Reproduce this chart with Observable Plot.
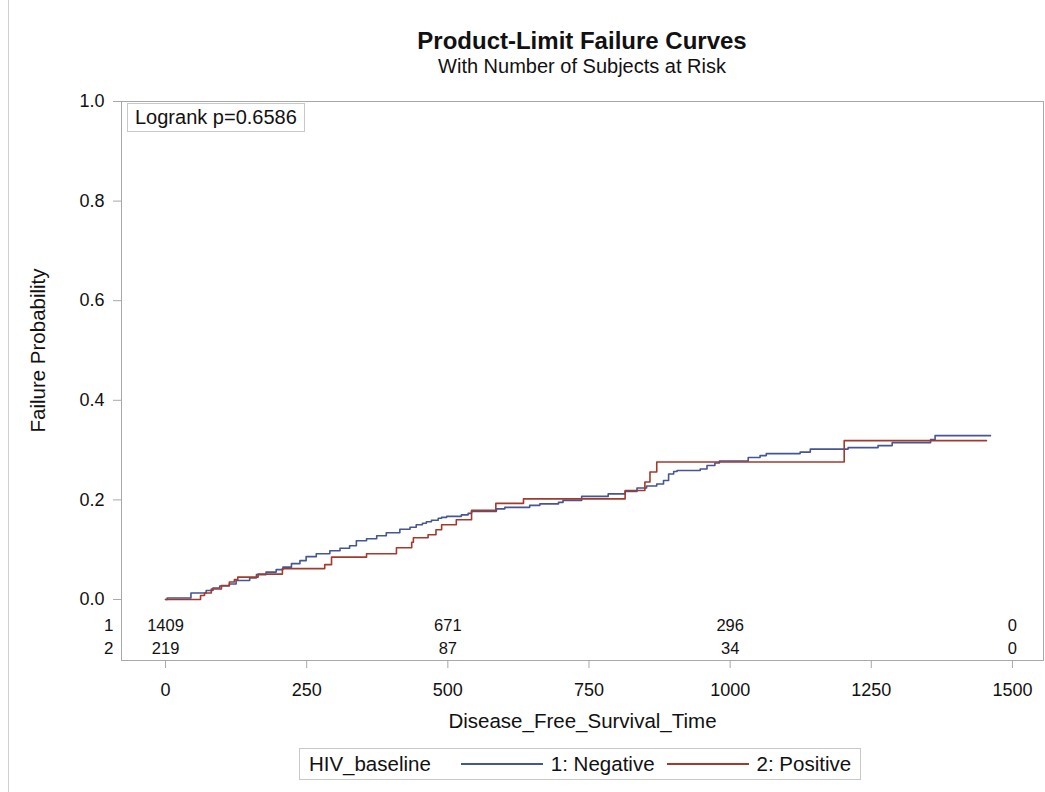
<!DOCTYPE html>
<html>
<head>
<meta charset="utf-8">
<script src="https://cdn.jsdelivr.net/npm/d3@7"></script>
<script src="https://cdn.jsdelivr.net/npm/@observablehq/plot@0.6"></script>
<style>
  html, body { margin: 0; padding: 0; background: #fff; }
  #wrap { position: relative; width: 1045px; height: 792px; overflow: hidden; background: #fff;
          font-family: "Liberation Sans", Arial, sans-serif; color: #111; }
  #outer { position: absolute; left: 8px; top: -2px; width: 1100px; height: 900px; border: 1px solid #d0d0d0; }
  #title { position: absolute; top: 27px; left: 0; width: 1164px; text-align: center; font-weight: bold; font-size: 24px; line-height: 28px; }
  #subtitle { position: absolute; top: 55px; left: 0; width: 1164px; text-align: center; font-size: 20px; line-height: 23px; }
  #chart { position: absolute; left: 0; top: 0; }
  #logrank { position: absolute; left: 127px; top: 103px; border: 1px solid #c8c8c8; padding: 3px 7px; font-size: 20px; line-height: 21px; background: #fff; }
  #legend { position: absolute; top: 748px; left: 0; width: 1160px; display: flex; justify-content: center; }
  #legend .box { display: flex; align-items: center; border: 1px solid #c8c8c8; padding: 3px 9px; font-size: 20.5px; line-height: 24px; }
  #legend .sw { display: inline-block; width: 82px; height: 2px; margin-right: 8px; }
</style>
</head>
<body>
<div id="wrap">
  <div id="outer"></div>
  <div id="chart"></div>
  <div id="title"></div>
  <div id="subtitle"></div>
  <div id="logrank"></div>
  <div id="legend"></div>
</div>
<script>
// ---- data ----
const titleText = "Product-Limit Failure Curves";
const subtitleText = "With Number of Subjects at Risk";
const logrankText = "Logrank p=0.6586";
const xLabel = "Disease_Free_Survival_Time";
const yLabel = "Failure Probability";
const legendTitle = "HIV_baseline";
const groups = ["1: Negative", "2: Positive"];
const groupCodes = ["1", "2"];
const groupColors = ["#445694", "#A23A2E"];

const xTicks = [0, 250, 500, 750, 1000, 1250, 1500];
const yTicks = [0, 0.2, 0.4, 0.6, 0.8, 1.0];

// group 1: Negative (time, failure probability)
const negTime = [0, 3, 45, 72, 84, 96, 113, 125, 149, 161, 178, 196, 208, 223, 238, 249, 267, 291, 309, 326, 338, 356, 374, 391, 415, 433, 444, 455, 462, 471, 483, 489, 498, 524, 536, 542, 586, 601, 645, 663, 696, 704, 737, 784, 814, 835, 852, 870, 882, 891, 900, 906, 947, 959, 973, 981, 1032, 1053, 1064, 1124, 1142, 1209, 1262, 1287, 1355, 1363, 1461];
const negFail = [0, 0.003, 0.013, 0.018, 0.023, 0.027, 0.031, 0.038, 0.0435, 0.050, 0.055, 0.060, 0.065, 0.072, 0.078, 0.086, 0.092, 0.098, 0.103, 0.108, 0.118, 0.122, 0.128, 0.134, 0.141, 0.145, 0.150, 0.153, 0.156, 0.159, 0.163, 0.165, 0.167, 0.170, 0.173, 0.177, 0.182, 0.185, 0.189, 0.192, 0.195, 0.199, 0.207, 0.212, 0.217, 0.224, 0.228, 0.232, 0.239, 0.252, 0.257, 0.259, 0.262, 0.269, 0.274, 0.278, 0.285, 0.289, 0.293, 0.296, 0.302, 0.305, 0.309, 0.315, 0.321, 0.329, 0.329];

// group 2: Positive
const posTime = [0, 62, 69, 81, 99, 113, 122, 128, 164, 207, 282, 294, 356, 409, 436, 439, 465, 479, 489, 515, 542, 585, 634, 814, 849, 858, 870, 1202, 1454];
const posFail = [0, 0.008, 0.013, 0.021, 0.028, 0.035, 0.040, 0.045, 0.051, 0.062, 0.070, 0.085, 0.092, 0.104, 0.115, 0.124, 0.130, 0.140, 0.150, 0.160, 0.179, 0.193, 0.202, 0.219, 0.236, 0.256, 0.276, 0.319, 0.319];

// numbers at risk
const atRiskTimes = [0, 500, 1000, 1500];
const atRiskNeg = [1409, 671, 296, 0];
const atRiskPos = [219, 87, 34, 0];

// ---- build ----
const curves = [
  ...negTime.map((t, i) => ({t, v: negFail[i], g: groups[0]})),
  ...posTime.map((t, i) => ({t, v: posFail[i], g: groups[1]}))
];
const riskRows = [atRiskNeg, atRiskPos].map((arr, r) =>
  atRiskTimes.map((t, i) => ({t, n: String(arr[i]), row: r})));

const frameColor = "#a8a8a8";
const rowDy = [-30, -7];

const chart = Plot.plot({
  width: 1045,
  height: 745,
  marginTop: 101,
  marginBottom: 85,
  marginLeft: 121,
  marginRight: 2,
  style: {fontFamily: '"Liberation Sans", Arial, sans-serif', fontSize: "14px", color: "#111", background: "transparent"},
  x: {domain: [-78, 1555]},
  y: {domain: [-0.1225, 1]},
  color: {domain: groups, range: groupColors},
  marks: [
    Plot.frame({stroke: frameColor}),
    Plot.axisX({ticks: xTicks, tickFormat: d => String(d), tickSize: 8, tickPadding: 15, stroke: frameColor, fill: "#111", label: null, fontSize: 18}),
    Plot.axisY({ticks: yTicks, tickFormat: ".1f", tickSize: 8, tickPadding: 9, stroke: frameColor, fill: "#111", label: null, fontSize: 18}),
    Plot.text([xLabel], {frameAnchor: "bottom", dy: 67, fontSize: 20.5, fill: "#111"}),
    Plot.text([yLabel], {y: [(yTicks[0] + yTicks[yTicks.length - 1]) / 2], frameAnchor: "left", textAnchor: "middle", dx: -83, rotate: -90, fontSize: 20.5, fill: "#111"}),
    Plot.line(curves, {x: "t", y: "v", z: "g", stroke: "g", curve: "step-after", strokeWidth: 1.6}),
    ...riskRows.map((rows, r) => Plot.text(rows, {x: "t", text: "n", frameAnchor: "bottom", dy: rowDy[r], fontSize: 16.5, fill: "#111"})),
    ...groupCodes.map((c, r) => Plot.text([c], {frameAnchor: "bottom-left", dx: -8, dy: rowDy[r], textAnchor: "end", fontSize: 17, fill: "#111"}))
  ]
});
document.getElementById("chart").appendChild(chart);

document.getElementById("title").textContent = titleText;
document.getElementById("subtitle").textContent = subtitleText;
document.getElementById("logrank").textContent = logrankText;

const box = document.createElement("div");
box.className = "box";
const lt = document.createElement("span");
lt.textContent = legendTitle;
box.appendChild(lt);
const swatchGaps = [30, 12];
groups.forEach((g, i) => {
  const sw = document.createElement("span");
  sw.className = "sw";
  sw.style.background = groupColors[i];
  sw.style.marginLeft = swatchGaps[i] + "px";
  box.appendChild(sw);
  const lab = document.createElement("span");
  lab.textContent = g;
  box.appendChild(lab);
});
document.getElementById("legend").appendChild(box);
</script>
</body>
</html>
